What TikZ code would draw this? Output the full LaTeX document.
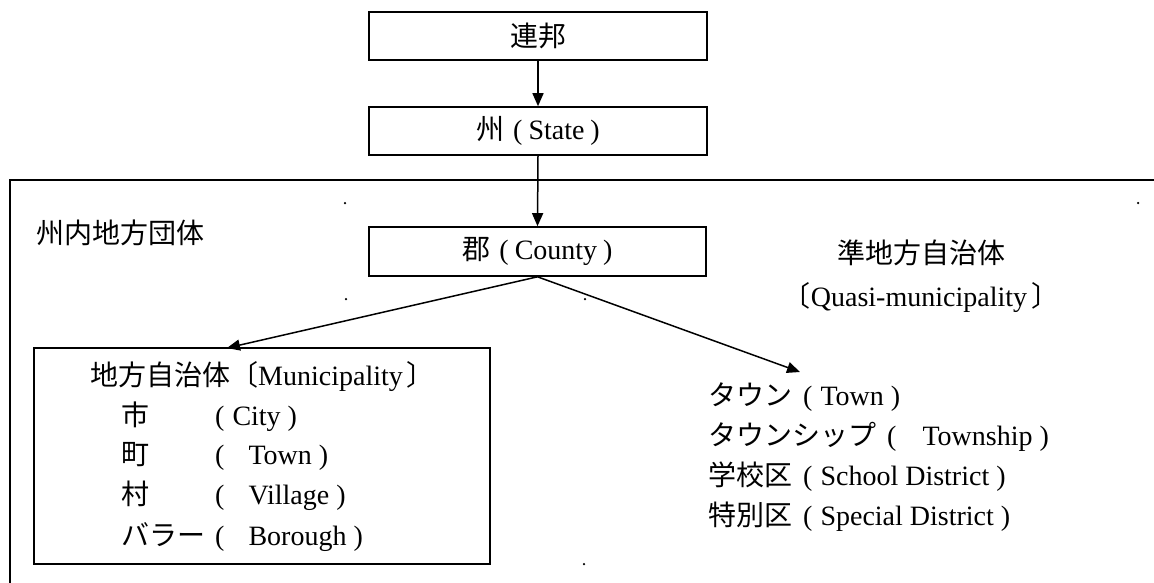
\documentclass[tikz,border=0pt]{standalone}
\usepackage{fontspec}
\setmainfont{Liberation Serif}
\newfontfamily\jp{Noto Sans CJK JP}
\usetikzlibrary{arrows.meta}
\newcommand\LP[1]{\hspace{11pt}(\hspace{#1}}
\newcommand\RP{\hspace{7pt})}
\begin{document}
\begin{tikzpicture}[x=1pt,y=-1pt,
  box/.style={draw,line width=1.6pt,minimum width=338pt,minimum height=48pt,inner sep=0pt,font=\fontsize{28}{33}\selectfont},
  txt/.style={inner sep=0pt,font=\fontsize{28}{33}\selectfont},
  arr/.style={line width=1.5pt,-{Triangle[length=13pt,width=11pt]}},
  frame/.style={line width=1.6pt},
  speck/.style={fill=black,inner sep=0pt,minimum size=2.5pt,circle}]
\useasboundingbox (0,0) rectangle (1154,582);
% outer frame (only top and left visible)
\draw[frame] (1160,180) -- (10,180) -- (10,590);
% boxes
\node[box] (fed) at (538,36) {\jp 連邦};
\node[box] (state) at (538,131) {{\jp 州}\hspace{9pt}(\hspace{6pt}State\hspace{6pt})};
\node[box,minimum width=337pt,minimum height=49pt] (county) at (537.5,251.5) {{\jp 郡}\hspace{9pt}(\hspace{6pt}County\hspace{6pt})};
\node[draw,line width=1.6pt,minimum width=456pt,minimum height=216pt,inner sep=0pt] (muni) at (262,456) {};
% labels
\node[txt,anchor=west] (inner) at (36,233) {\jp 州内地方団体};
\node[txt] (quasij) at (921,253) {\jp 準地方自治体};
\node[txt] (quasie) at (921,298) {{\jp 〔}Quasi-municipality\hspace{4pt}{\jp 〕}};
% municipality contents
\node[txt,anchor=west] (mt) at (90,377) {{\jp 地方自治体〔}Municipality\hspace{4pt}{\jp 〕}};
\node[txt,anchor=west] (m1) at (121,417) {\makebox[94pt][l]{\jp 市}(\hspace{8pt}City\RP};
\node[txt,anchor=west] (m2) at (121,456) {\makebox[94pt][l]{\jp 町}(\hspace{24pt}Town\RP};
\node[txt,anchor=west] (m3) at (121,496) {\makebox[94pt][l]{\jp 村}(\hspace{24pt}Village\RP};
\node[txt,anchor=west] (m4) at (121,537) {\makebox[94pt][l]{\jp バラー}(\hspace{24pt}Borough\RP};
% quasi-municipality list
\node[txt,anchor=west] (q1) at (708,397) {{\jp タウン}\LP{8pt}Town\RP};
\node[txt,anchor=west] (q2) at (708,437) {{\jp タウンシップ}\LP{26pt}Township\RP};
\node[txt,anchor=west] (q3) at (708,477) {{\jp 学校区}\LP{8pt}School District\RP};
\node[txt,anchor=west] (q4) at (708,517) {{\jp 特別区}\LP{8pt}Special District\RP};
% connectors
\coordinate (mtip) at (227,348);
\coordinate (rtip) at (800,372);
\draw[arr] (fed.south) -- (state.north);
\draw[arr] (state.south) -- (county.north);
\draw[arr] (county.south) -- (mtip);
\draw[arr] (county.south) -- (rtip);
% stray specks
\node[speck] (s1) at (345,203) {};
\node[speck] (s2) at (1138,203) {};
\node[speck] (s3) at (346,299) {};
\node[speck] (s4) at (585,299) {};
\node[speck] (s5) at (584,564) {};
\end{tikzpicture}
\end{document}
